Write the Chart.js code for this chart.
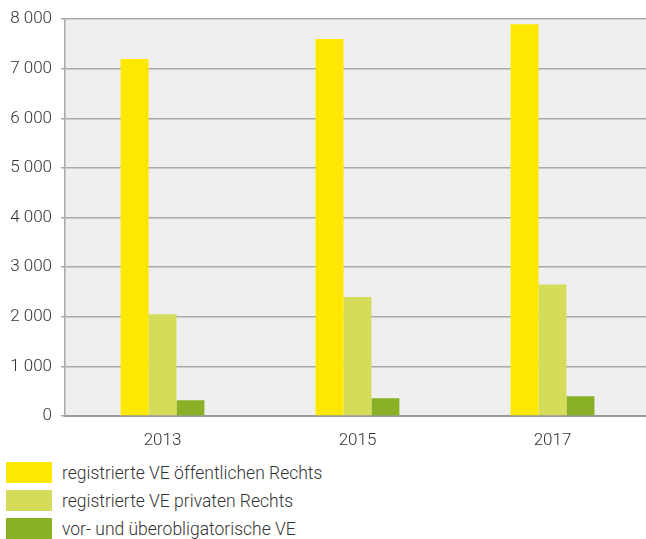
<!DOCTYPE html>
<html><head><meta charset="utf-8">
<script src="https://cdn.jsdelivr.net/npm/chart.js@4"></script>
<style>
html,body{margin:0;padding:0;background:#fff;overflow:hidden;}
#wrap{position:relative;width:646px;height:539px;overflow:hidden;}
#c{position:absolute;left:0;top:0;}
#legend{position:absolute;left:6px;top:462px;font-family:Roboto,sans-serif;font-weight:300;font-size:17.5px;color:#333;}
.item{display:flex;align-items:center;height:21px;margin-bottom:7px;}
.box{width:46px;height:21px;margin-right:10px;}
</style></head>
<body><div id="wrap"><canvas id="c" width="650" height="450"></canvas><div id="legend"></div></div>
<script>
const categories = ["2013", "2015", "2017"];
const seriesNames = ["registrierte VE öffentlichen Rechts", "registrierte VE privaten Rechts", "vor- und überobligatorische VE"];
const oeffentlich = [7200, 7600, 7900];
const privat = [2050, 2400, 2650];
const ueberobl = [320, 360, 400];
const colors = ["#FFE800", "#D4DC5A", "#8AB026"];
const yTicks = [0, 1000, 2000, 3000, 4000, 5000, 6000, 7000, 8000];

const bgPlugin = {
  id: 'bg',
  beforeDraw(chart) {
    const {ctx, chartArea: a} = chart;
    ctx.save(); ctx.fillStyle = '#efefef';
    ctx.fillRect(a.left, a.top, a.right - a.left, a.bottom - a.top);
    ctx.restore();
  }
};
const fmt = v => String(v).replace(/\B(?=(\d{3})+(?!\d))/g, ' ');
const font = {family: 'Roboto, sans-serif', size: 17, weight: 300};
const data = [oeffentlich, privat, ueberobl];
new Chart(document.getElementById('c'), {
  type: 'bar',
  data: {
    labels: categories,
    datasets: seriesNames.map((n, i) => ({label: n, data: data[i], backgroundColor: colors[i], borderWidth: 0}))
  },
  options: {
    responsive: false, animation: false,
    layout: {padding: {top: 8, right: 0, left: 0, bottom: 0}},
    categoryPercentage: 0.43, barPercentage: 1,
    plugins: {legend: {display: false}, tooltip: {enabled: false}},
    scales: {
      x: {
        grid: {display: false},
        border: {display: true, color: '#999', width: 2},
        ticks: {font, color: '#333', padding: 7},
        afterFit(s) { s.height = 34; }
      },
      y: {
        min: 0, max: 8000,
        afterBuildTicks(s) { s.ticks = yTicks.map(v => ({value: v})); },
        grid: {color: '#aaa', lineWidth: 1.5, tickLength: 4, drawTicks: true},
        border: {display: true, color: '#aaa', width: 1.5},
        ticks: {font, color: '#333', padding: 9, callback: v => fmt(v)},
        afterFit(s) { s.width = 65; }
      }
    }
  },
  plugins: [bgPlugin]
});
const lg = document.getElementById('legend');
seriesNames.forEach((n, i) => {
  const d = document.createElement('div'); d.className = 'item';
  d.innerHTML = '<div class="box" style="background:' + colors[i] + '"></div><span>' + n + '</span>';
  lg.appendChild(d);
});
</script></body></html>
